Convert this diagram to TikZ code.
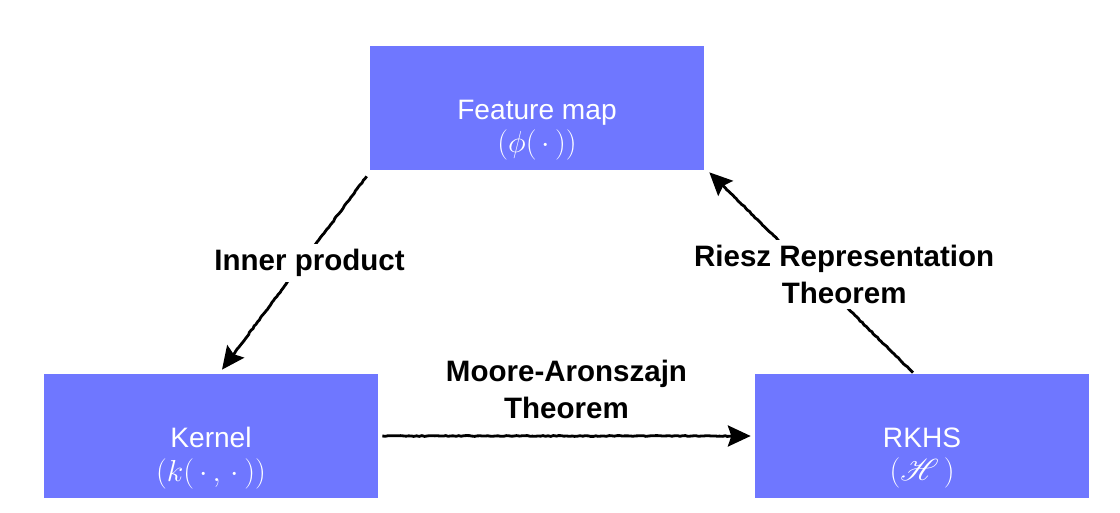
\documentclass[tikz,border=0pt]{standalone}
\usepackage[no-math]{fontspec}
\usepackage{mathrsfs}
\usetikzlibrary{arrows.meta,decorations.pathmorphing}
\newfontfamily\helv{Liberation Sans}
\definecolor{boxblue}{RGB}{111,119,255}
\begin{document}
\begin{tikzpicture}[x=0.02cm,y=-0.02cm,
  box/.style={fill=boxblue,minimum width=6.68cm,minimum height=2.48cm,inner sep=0pt},
  boxtext/.style={text=white,align=center,font=\helv\fontsize{16}{19}\selectfont},
  lbl/.style={fill=white,align=center,inner sep=3pt,font=\helv\bfseries\fontsize{16.8}{21}\selectfont},
  arr/.style={line width=1.6pt,-{Stealth[length=13pt,width=12pt,inset=2pt]},
    decorate,decoration={random steps,segment length=1.5pt,amplitude=0.25pt,post length=8pt}}]

\useasboundingbox (0,0) rectangle (1120,513);

% Boites
\node[box] (fm) at (537,108) {};
\node[boxtext] (fmtext) at ([yshift=-0.44cm]fm.center) {Feature map\\$(\phi(\,\cdot\,))$};

\node[box] (kn) at (211,436) {};
\node[boxtext] (kntext) at ([yshift=-0.44cm]kn.center) {Kernel\\$(k(\,\cdot\,,\,\cdot\,))$};

\node[box] (rk) at (922,436) {};
\node[boxtext] (rktext) at ([yshift=-0.44cm]rk.center) {RKHS\\$(\mathscr{H}\,)$};

% Fleches
\draw[arr] ([xshift=-0.06cm,yshift=-0.12cm]fm.south west) --
  node[lbl,pos=0.45,xshift=0.16cm] (ip) {Inner product}
  ([xshift=0.22cm,yshift=0.08cm]kn.north);

\draw[arr] ([xshift=0.08cm]kn.east) --
  node[above=9pt,align=center,inner sep=0pt,font=\helv\bfseries\fontsize{16.8}{21}\selectfont] (ma) {Moore-Aronszajn\\Theorem}
  ([xshift=-0.08cm]rk.west);

\draw[arr] ([xshift=-0.18cm,yshift=0.02cm]rk.north) --
  node[lbl,pos=0.49,xshift=0.62cm] (rr) {Riesz Representation\\Theorem}
  ([xshift=0.1cm,yshift=-0.04cm]fm.south east);

\end{tikzpicture}
\end{document}
